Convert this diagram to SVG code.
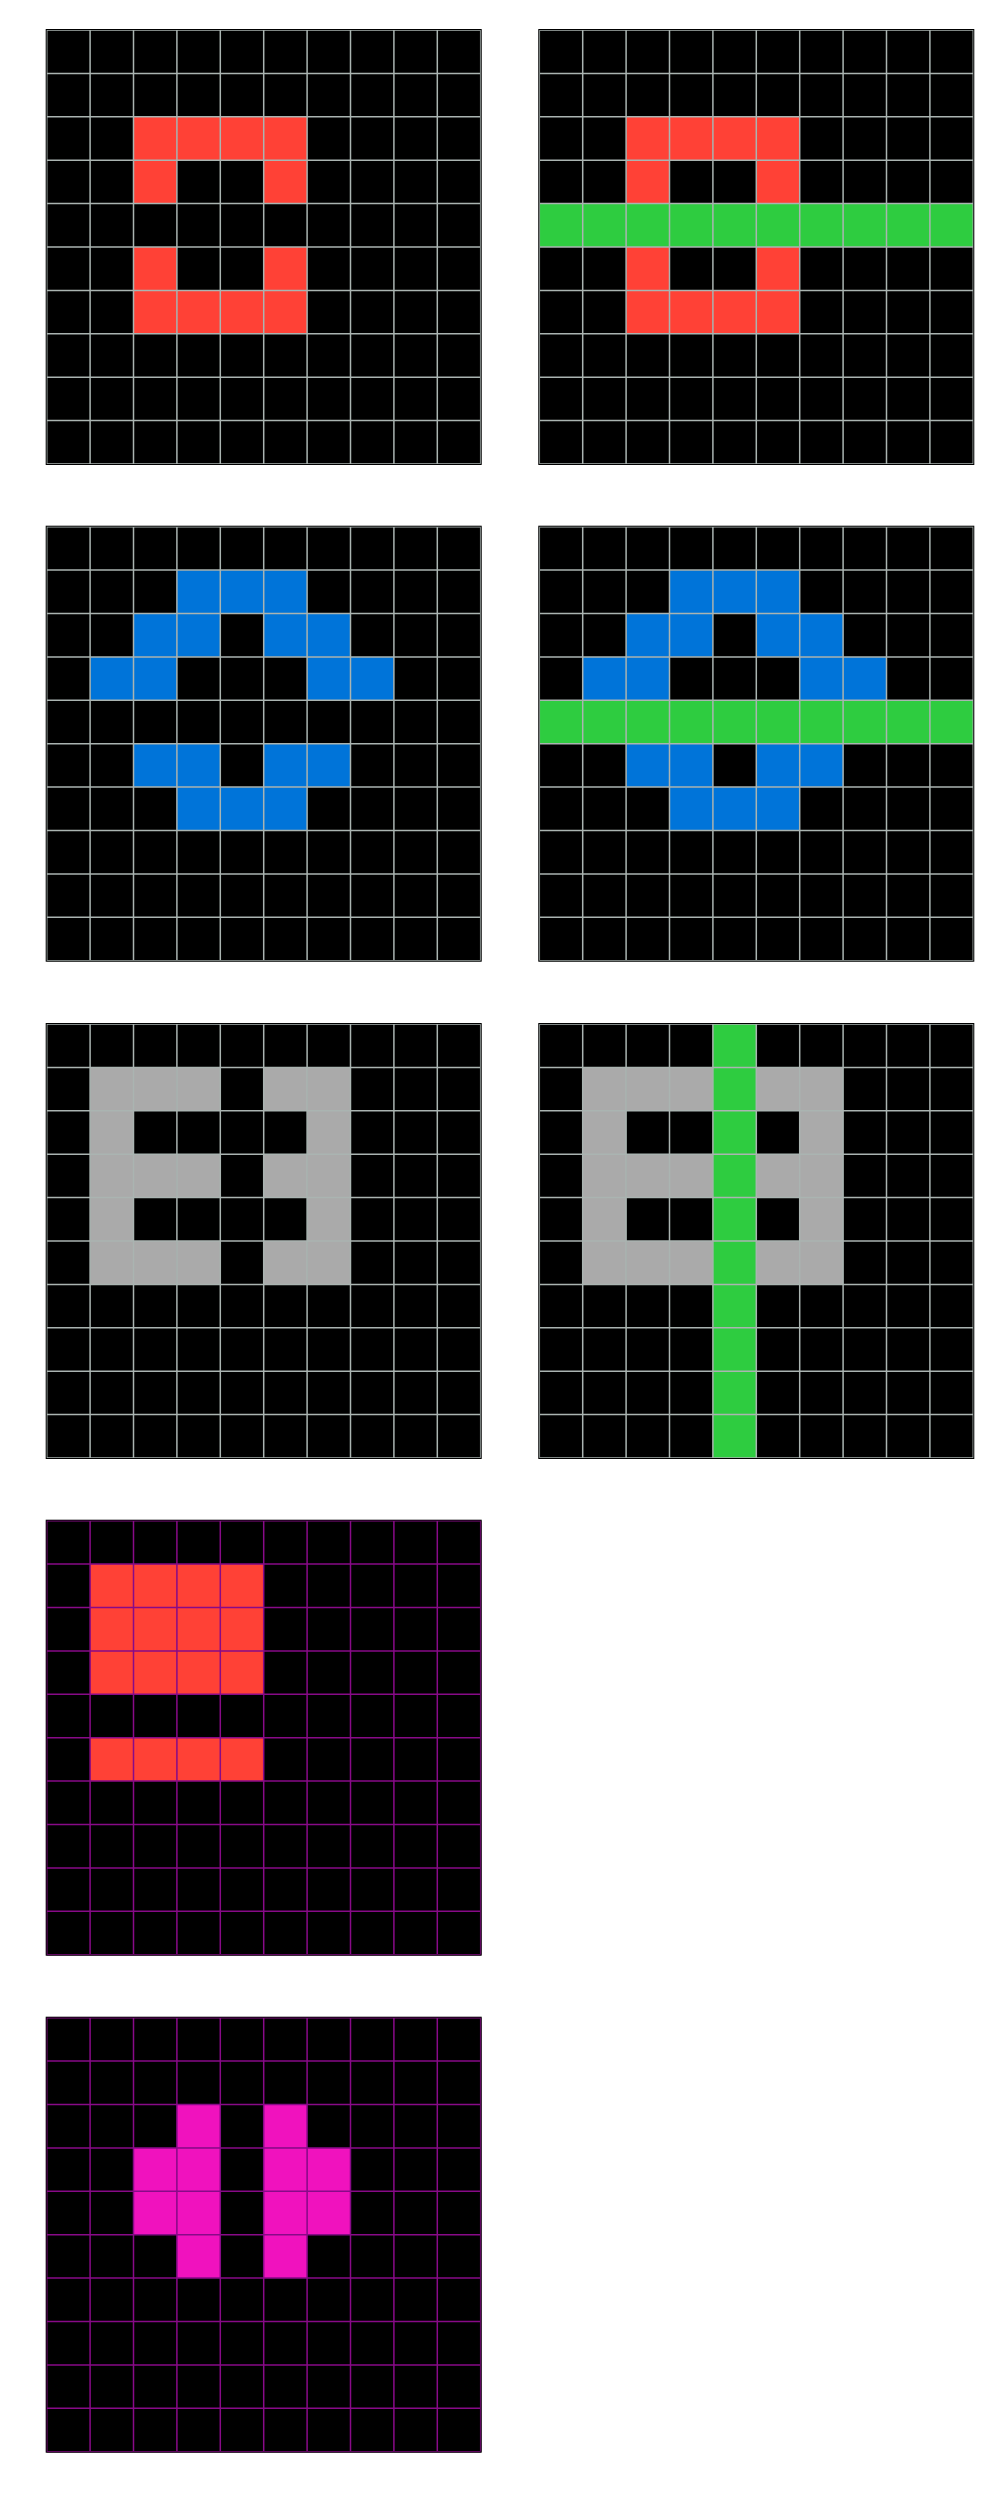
<svg xmlns="http://www.w3.org/2000/svg" xmlns:xlink="http://www.w3.org/1999/xlink" width="1000" height="2500" viewBox="0 0 1000 2500">
<style>
.bg{fill:#000000}
.r{fill:#ff4136}
.g{fill:#2ecc40}
.b{fill:#0074d9}
.s{fill:#aaaaaa}
.m{fill:#f012be}
.gl{fill:none;stroke:#aab4b1;stroke-width:1.5}
.pl{fill:none;stroke:#880a88;stroke-width:1.5}
.bd{fill:none;stroke:#000000;stroke-width:1}
</style>
<defs>
<path id="lines" d="M0,0V434M43.4,0V434M86.8,0V434M130.2,0V434M173.6,0V434M217,0V434M260.4,0V434M303.8,0V434M347.2,0V434M390.6,0V434M434,0V434M0,0H434M0,43.4H434M0,86.8H434M0,130.2H434M0,173.6H434M0,217H434M0,260.4H434M0,303.8H434M0,347.2H434M0,390.6H434M0,434H434"/>
<rect id="c" width="43.4" height="43.4"/>
</defs>

<g id="grid1" transform="translate(46.7,30)">
<rect class="bg" width="434" height="434"/>
<g class="r">
<use href="#c" x="86.8" y="86.8"/><use href="#c" x="130.2" y="86.8"/><use href="#c" x="173.6" y="86.8"/><use href="#c" x="217" y="86.8"/>
<use href="#c" x="86.8" y="130.2"/><use href="#c" x="217" y="130.2"/>
<use href="#c" x="86.8" y="217"/><use href="#c" x="217" y="217"/>
<use href="#c" x="86.8" y="260.4"/><use href="#c" x="130.2" y="260.4"/><use href="#c" x="173.6" y="260.4"/><use href="#c" x="217" y="260.4"/>
</g>
<use href="#lines" class="gl"/>
<rect class="bd" x="-0.5" y="-0.5" width="435" height="435"/>
</g>

<g id="grid2" transform="translate(539.3,30)">
<rect class="bg" width="434" height="434"/>
<g class="r">
<use href="#c" x="86.8" y="86.8"/><use href="#c" x="130.2" y="86.8"/><use href="#c" x="173.6" y="86.8"/><use href="#c" x="217" y="86.8"/>
<use href="#c" x="86.8" y="130.2"/><use href="#c" x="217" y="130.2"/>
<use href="#c" x="86.8" y="217"/><use href="#c" x="217" y="217"/>
<use href="#c" x="86.8" y="260.4"/><use href="#c" x="130.2" y="260.4"/><use href="#c" x="173.6" y="260.4"/><use href="#c" x="217" y="260.4"/>
</g>
<rect class="g" x="0" y="173.6" width="434" height="43.4"/>
<use href="#lines" class="gl"/>
<rect class="bd" x="-0.5" y="-0.5" width="435" height="435"/>
</g>

<g id="grid3" transform="translate(46.7,526.7)">
<rect class="bg" width="434" height="434"/>
<g class="b">
<use href="#c" x="130.2" y="43.4"/><use href="#c" x="173.6" y="43.4"/><use href="#c" x="217" y="43.4"/>
<use href="#c" x="86.8" y="86.8"/><use href="#c" x="130.2" y="86.8"/><use href="#c" x="217" y="86.8"/><use href="#c" x="260.4" y="86.8"/>
<use href="#c" x="43.4" y="130.2"/><use href="#c" x="86.8" y="130.2"/><use href="#c" x="260.4" y="130.2"/><use href="#c" x="303.8" y="130.2"/>
<use href="#c" x="86.8" y="217"/><use href="#c" x="130.2" y="217"/><use href="#c" x="217" y="217"/><use href="#c" x="260.4" y="217"/>
<use href="#c" x="130.2" y="260.4"/><use href="#c" x="173.6" y="260.4"/><use href="#c" x="217" y="260.4"/>
</g>
<use href="#lines" class="gl"/>
<rect class="bd" x="-0.5" y="-0.5" width="435" height="435"/>
</g>

<g id="grid4" transform="translate(539.3,526.7)">
<rect class="bg" width="434" height="434"/>
<g class="b">
<use href="#c" x="130.2" y="43.4"/><use href="#c" x="173.6" y="43.4"/><use href="#c" x="217" y="43.4"/>
<use href="#c" x="86.8" y="86.8"/><use href="#c" x="130.2" y="86.8"/><use href="#c" x="217" y="86.8"/><use href="#c" x="260.4" y="86.8"/>
<use href="#c" x="43.4" y="130.2"/><use href="#c" x="86.8" y="130.2"/><use href="#c" x="260.4" y="130.2"/><use href="#c" x="303.8" y="130.2"/>
<use href="#c" x="86.8" y="217"/><use href="#c" x="130.2" y="217"/><use href="#c" x="217" y="217"/><use href="#c" x="260.4" y="217"/>
<use href="#c" x="130.2" y="260.4"/><use href="#c" x="173.6" y="260.4"/><use href="#c" x="217" y="260.4"/>
</g>
<rect class="g" x="0" y="173.6" width="434" height="43.4"/>
<use href="#lines" class="gl"/>
<rect class="bd" x="-0.5" y="-0.5" width="435" height="435"/>
</g>

<g id="grid5" transform="translate(46.7,1024)">
<rect class="bg" width="434" height="434"/>
<g class="s">
<use href="#c" x="43.4" y="43.4"/><use href="#c" x="86.8" y="43.4"/><use href="#c" x="130.2" y="43.4"/><use href="#c" x="217" y="43.4"/><use href="#c" x="260.4" y="43.4"/>
<use href="#c" x="43.4" y="86.8"/><use href="#c" x="260.4" y="86.8"/>
<use href="#c" x="43.4" y="130.2"/><use href="#c" x="86.8" y="130.2"/><use href="#c" x="130.2" y="130.2"/><use href="#c" x="217" y="130.2"/><use href="#c" x="260.4" y="130.2"/>
<use href="#c" x="43.4" y="173.6"/><use href="#c" x="260.4" y="173.6"/>
<use href="#c" x="43.4" y="217"/><use href="#c" x="86.8" y="217"/><use href="#c" x="130.2" y="217"/><use href="#c" x="217" y="217"/><use href="#c" x="260.4" y="217"/>
</g>
<use href="#lines" class="gl"/>
<rect class="bd" x="-0.5" y="-0.5" width="435" height="435"/>
</g>

<g id="grid6" transform="translate(539.3,1024)">
<rect class="bg" width="434" height="434"/>
<g class="s">
<use href="#c" x="43.4" y="43.4"/><use href="#c" x="86.8" y="43.4"/><use href="#c" x="130.2" y="43.4"/><use href="#c" x="217" y="43.4"/><use href="#c" x="260.4" y="43.4"/>
<use href="#c" x="43.4" y="86.8"/><use href="#c" x="260.4" y="86.8"/>
<use href="#c" x="43.4" y="130.2"/><use href="#c" x="86.8" y="130.2"/><use href="#c" x="130.2" y="130.2"/><use href="#c" x="217" y="130.2"/><use href="#c" x="260.4" y="130.2"/>
<use href="#c" x="43.4" y="173.6"/><use href="#c" x="260.4" y="173.6"/>
<use href="#c" x="43.4" y="217"/><use href="#c" x="86.8" y="217"/><use href="#c" x="130.2" y="217"/><use href="#c" x="217" y="217"/><use href="#c" x="260.4" y="217"/>
</g>
<rect class="g" x="173.6" y="0" width="43.4" height="434"/>
<use href="#lines" class="gl"/>
<rect class="bd" x="-0.5" y="-0.5" width="435" height="435"/>
</g>

<g id="grid7" transform="translate(46.7,1520.7)">
<rect class="bg" width="434" height="434"/>
<rect class="r" x="43.4" y="43.4" width="173.6" height="130.2"/>
<rect class="r" x="43.4" y="217" width="173.6" height="43.4"/>
<use href="#lines" class="pl"/>
<rect class="bd" x="-0.5" y="-0.5" width="435" height="435"/>
</g>

<g id="grid8" transform="translate(46.7,2017.7)">
<rect class="bg" width="434" height="434"/>
<g class="m">
<use href="#c" x="130.2" y="86.8"/><use href="#c" x="217" y="86.8"/>
<use href="#c" x="86.8" y="130.2"/><use href="#c" x="130.2" y="130.2"/><use href="#c" x="217" y="130.2"/><use href="#c" x="260.4" y="130.2"/>
<use href="#c" x="86.8" y="173.6"/><use href="#c" x="130.2" y="173.6"/><use href="#c" x="217" y="173.6"/><use href="#c" x="260.4" y="173.6"/>
<use href="#c" x="130.2" y="217"/><use href="#c" x="217" y="217"/>
</g>
<use href="#lines" class="pl"/>
<rect class="bd" x="-0.5" y="-0.5" width="435" height="435"/>
</g>

<g id="connectors"></g>
</svg>
